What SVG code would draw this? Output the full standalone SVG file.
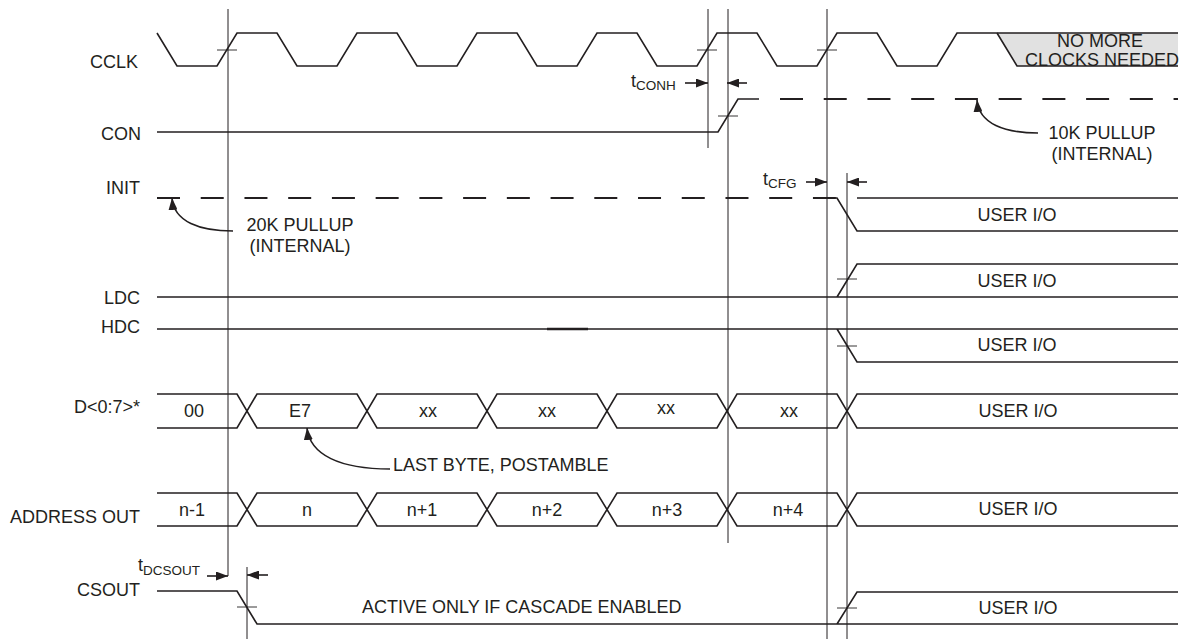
<svg xmlns="http://www.w3.org/2000/svg" width="1182" height="639" viewBox="0 0 1182 639">
<defs>
<style>
.sig{fill:none;stroke:#231f20;stroke-width:1.6;stroke-linejoin:miter}
.ref{fill:none;stroke:#231f20;stroke-width:1}
.tick{fill:none;stroke:#231f20;stroke-width:0.9}
.dash{fill:none;stroke:#231f20;stroke-width:1.8;stroke-dasharray:23 20.73}
.ann{fill:none;stroke:#231f20;stroke-width:1.6}
.lbl{font-family:"Liberation Sans",Arial,sans-serif;font-size:18px;fill:#231f20}
.mid{text-anchor:middle}
.end{text-anchor:end}
.sub{font-size:13.5px}
</style>
<marker id="ah" viewBox="0 0 12 9" refX="12" refY="4.5" markerWidth="12" markerHeight="9" markerUnits="userSpaceOnUse" orient="auto-start-reverse"><path d="M0,0 L12,4.5 L0,9 Z" fill="#231f20"/></marker>
</defs>
<rect width="1182" height="639" fill="#ffffff"/>

<g id="cclk">
<polygon points="997,33 1017,66 1178,66 1178,33" fill="#e1e1e1"/>
<path class="sig" d="M157,33 L177,66 L217,66 L237,33 L277,33 L297,66 L337,66 L357,33 L397,33 L417,66 L457,66 L477,33 L517,33 L537,66 L577,66 L597,33 L637,33 L657,66 L697,66 L717,33 L757,33 L777,66 L817,66 L837,33 L877,33 L897,66 L937,66 L957,33 L1178,33"/>
<path class="sig" d="M997,33 L1017,66 L1178,66"/>
<path class="tick" d="M217,50 H237 M697,50 H717 M817,50 H837"/>
<text class="lbl end" x="138" y="68">CCLK</text>
<text class="lbl mid" x="1100" y="47">NO MORE</text>
<text class="lbl mid" x="1102" y="66">CLOCKS NEEDED</text>
</g>

<g id="con">
<path class="sig" d="M157,132 H718 L738,99 H759"/>
<path class="dash" d="M780,99 H1178"/>
<path class="tick" d="M718,116 H738"/>
<text class="lbl end" x="141" y="140">CON</text>
<text class="lbl" x="631" y="87">t<tspan class="sub" dy="3">CONH</tspan></text>
<text class="lbl mid" x="1102" y="139">10K PULLUP</text>
<text class="lbl mid" x="1102" y="160">(INTERNAL)</text>
</g>

<g id="init">
<path class="dash" d="M157,198 H836"/>
<path class="sig" d="M836,198 H837 L857,231 H1178 M857,198 H1178"/>
<text class="lbl end" x="140" y="194">INIT</text>
<text class="lbl" x="763" y="185">t<tspan class="sub" dy="3">CFG</tspan></text>
<text class="lbl mid" x="300" y="231">20K PULLUP</text>
<text class="lbl mid" x="300" y="252">(INTERNAL)</text>
<text class="lbl mid" x="1017" y="221">USER I/O</text>
</g>

<g id="ldc">
<path class="sig" d="M157,297 H1178 M837,297 L857,264 H1178"/>
<path class="tick" d="M837,279 H857"/>
<text class="lbl end" x="140" y="304">LDC</text>
<text class="lbl mid" x="1017" y="287">USER I/O</text>
</g>

<g id="hdc">
<path class="sig" d="M157,329 H1178 M837,329 L857,362 H1178"/>
<path class="sig" style="stroke-width:2.6" d="M547,329 H588"/>
<path class="tick" d="M837,346 H857"/>
<text class="lbl end" x="140" y="333">HDC</text>
<text class="lbl mid" x="1017" y="351">USER I/O</text>
</g>

<g id="data">
<path class="sig" d="M157,394 H237 L257,428 H357 L377,394 H477 L497,428 H597 L617,394 H717 L737,428 H837 L857,394 H1178"/>
<path class="sig" d="M157,428 H237 L257,394 H357 L377,428 H477 L497,394 H597 L617,428 H717 L737,394 H837 L857,428 H1178"/>
<text class="lbl end" x="140" y="413">D&lt;0:7&gt;*</text>
<text class="lbl mid" x="194" y="417">00</text>
<text class="lbl mid" x="300" y="417">E7</text>
<text class="lbl mid" x="428" y="417">xx</text>
<text class="lbl mid" x="547" y="417">xx</text>
<text class="lbl mid" x="666" y="414">xx</text>
<text class="lbl mid" x="789" y="417">xx</text>
<text class="lbl mid" x="1018" y="417">USER I/O</text>
<text class="lbl" x="393" y="471">LAST BYTE, POSTAMBLE</text>
</g>

<g id="address">
<path class="sig" d="M157,493 H237 L257,526 H357 L377,493 H477 L497,526 H597 L617,493 H717 L737,526 H837 L857,493 H1178"/>
<path class="sig" d="M157,526 H237 L257,493 H357 L377,526 H477 L497,493 H597 L617,526 H717 L737,493 H837 L857,526 H1178"/>
<text class="lbl end" x="140" y="523">ADDRESS OUT</text>
<text class="lbl mid" x="192" y="516">n-1</text>
<text class="lbl mid" x="307" y="516">n</text>
<text class="lbl mid" x="422" y="516">n+1</text>
<text class="lbl mid" x="547" y="516">n+2</text>
<text class="lbl mid" x="667" y="516">n+3</text>
<text class="lbl mid" x="788" y="516">n+4</text>
<text class="lbl mid" x="1018" y="515">USER I/O</text>
</g>

<g id="csout">
<path class="sig" d="M157,591 H237 L257,624 H1178 M837,624 L857,592 H1178"/>
<path class="tick" d="M237,607 H257 M837,608 H857"/>
<text class="lbl end" x="140" y="596">CSOUT</text>
<text class="lbl" x="138" y="571">t<tspan class="sub" dy="4">DCSOUT</tspan></text>
<text class="lbl" x="362" y="613">ACTIVE ONLY IF CASCADE ENABLED</text>
<text class="lbl mid" x="1018" y="614">USER I/O</text>
</g>

<g id="connectors">
<path class="ref" d="M228,9 V576 M247,567 V639 M708,9 V148 M728,9 V543 M827,9 V639 M847,173 V639"/>
<path class="ann" marker-end="url(#ah)" d="M685,83 H708"/>
<path class="ann" marker-end="url(#ah)" d="M747,83 H727"/>
<path class="ann" marker-end="url(#ah)" d="M806,182 H827"/>
<path class="ann" marker-end="url(#ah)" d="M867,182 H847"/>
<path class="ann" marker-end="url(#ah)" d="M207,576 H228"/>
<path class="ann" marker-end="url(#ah)" d="M268,575 H247"/>
<path class="ann" marker-start="url(#ah)" d="M172,198 C174,222 200,231 233,231"/>
<path class="ann" marker-start="url(#ah)" d="M977,100 C979,124 1005,133 1038,133"/>
<path class="ann" marker-start="url(#ah)" d="M307,428 C310,455 340,469 390,469"/>
</g>
</svg>
